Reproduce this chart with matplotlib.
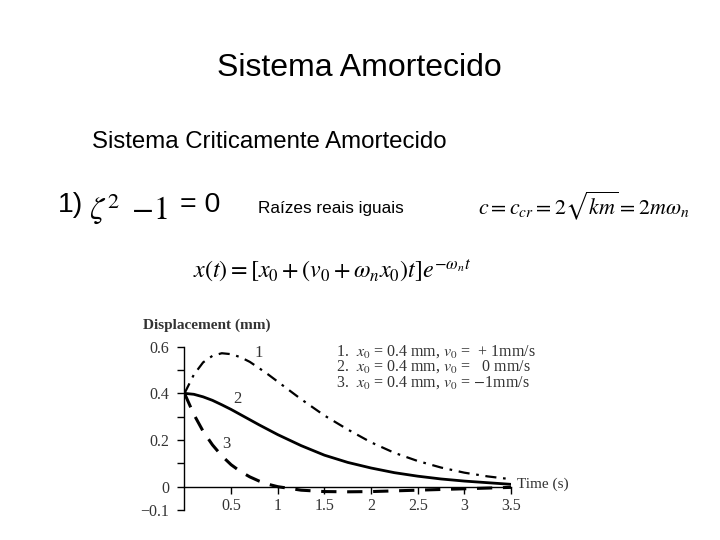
import matplotlib
matplotlib.use("Agg")
import matplotlib.pyplot as plt
from matplotlib.ticker import FixedLocator

plt.rcParams['mathtext.fontset'] = 'stix'

# ---- data ----
t = [0.0, 0.1, 0.2, 0.3, 0.4, 0.5, 0.6, 0.7, 0.8, 0.9, 1.0, 1.25, 1.5, 1.75,
     2.0, 2.25, 2.5, 2.75, 3.0, 3.25, 3.5]
curve1 = [0.40, 0.48, 0.533, 0.561, 0.572, 0.568, 0.555, 0.535, 0.508, 0.48,
          0.45, 0.375, 0.305, 0.245, 0.19, 0.145, 0.11, 0.082, 0.06, 0.044, 0.032]
curve2 = [0.40, 0.396, 0.385, 0.370, 0.351, 0.331, 0.309, 0.287, 0.265, 0.244,
          0.223, 0.176, 0.135, 0.104, 0.080, 0.060, 0.045, 0.033, 0.024, 0.017, 0.010]
curve3 = [0.40, 0.31, 0.237, 0.179, 0.132, 0.094, 0.065, 0.042, 0.024, 0.010,
          0.0, -0.015, -0.021, -0.022, -0.021, -0.018, -0.015, -0.012, -0.009, -0.006, -0.003]
curve_labels = ["1", "2", "3"]
label_pos = [(0.8, 0.575), (0.57, 0.375), (0.45, 0.185)]
legend_lines = [r"1.  $x_0$ = 0.4 mm, $v_0$ =  + 1mm/s",
                r"2.  $x_0$ = 0.4 mm, $v_0$ =   0 mm/s",
                r"3.  $x_0$ = 0.4 mm, $v_0$ = $-$1mm/s"]
yticks = [-0.1, 0.0, 0.2, 0.4, 0.6]
yticklabels = ["\u22120.1", "0", "0.2", "0.4", "0.6"]
yminor = [0.1, 0.3, 0.5]
xticks = [0.5, 1.0, 1.5, 2.0, 2.5, 3.0, 3.5]
xticklabels = ["0.5", "1", "1.5", "2", "2.5", "3", "3.5"]

W, H = 720, 540
fig = plt.figure(figsize=(7.2, 5.4), dpi=100)
fig.patch.set_facecolor("white")

def px(x, y):
    return x / W, 1 - y / H

sans = "Liberation Sans"
serif = "Liberation Serif"

fig.text(*px(359, 68), "Sistema Amortecido", family=sans, fontsize=23,
         ha="center", va="center")
fig.text(*px(269, 142), "Sistema Criticamente Amortecido", family=sans, fontsize=17.3,
         ha="center", va="center")
fig.text(*px(58, 205), "1)", family=sans, fontsize=20.5, ha="left", va="center")
fig.text(*px(89, 209), r"$\zeta^{2}\ \,{-1}$", fontsize=23, ha="left", va="center")
fig.text(*px(180, 205), "= 0", family=sans, fontsize=20.5, ha="left", va="center")
fig.text(*px(258, 209), "Raízes reais iguais", family=sans, fontsize=12.3,
         ha="left", va="center")
fig.text(*px(478, 206), r"$c = c_{cr} = 2\sqrt{km} = 2m\omega_n$", fontsize=15.8,
         ha="left", va="center")
fig.text(*px(193, 271), r"$x(t) = [x_0 + (v_0 + \omega_n x_0)t]e^{-\omega_n t}$",
         fontsize=17.3, ha="left", va="center")

# ---- chart ----
left, right = 184.5, 511
top, bottom = 346.7, 510
ax = fig.add_axes([left / W, 1 - bottom / H, (right - left) / W, (bottom - top) / H])
ax.set_xlim(0, 3.5)
ax.set_ylim(-0.1, 0.6)
ax.patch.set_alpha(0)

ax.plot(t, curve1, color="black", lw=1.6, linestyle=(0, (5, 3, 1.2, 3)),
        dash_capstyle="butt")
ax.plot(t, curve2, color="black", lw=2.0)
ax.plot(t, curve3, color="black", lw=2.2, linestyle=(0, (5, 3.5)),
        dash_capstyle="butt")

for lab, (lx, ly) in zip(curve_labels, label_pos):
    ax.text(lx, ly, lab, family=serif, fontsize=12, color="#333333",
            ha="center", va="center")

for s in ("top", "right"):
    ax.spines[s].set_visible(False)
ax.spines["bottom"].set_position(("data", 0))
ax.spines["left"].set_linewidth(1.0)
ax.spines["bottom"].set_linewidth(1.0)

ax.set_yticks(yticks)
ax.set_yticklabels(yticklabels, family=serif, fontsize=11.5, color="#333333")
ax.yaxis.set_minor_locator(FixedLocator(yminor))
ax.set_xticks(xticks)
ax.set_xticklabels(xticklabels, family=serif, fontsize=11.5, color="#333333")
ax.tick_params(axis="both", which="both", direction="out", length=5, width=1,
               color="black")
ax.tick_params(axis="y", pad=6)
ax.tick_params(axis="x", pad=3)

fig.text(*px(143, 325), "Displacement (mm)", family=serif, fontsize=11,
         weight="bold", color="#333333", ha="left", va="center")
fig.text(*px(517, 484), "Time (s)", family=serif, fontsize=11, color="#333333",
         ha="left", va="center")

fig.text(*px(336, 367), "\n".join(legend_lines), family=serif, fontsize=11.5,
         color="#333333", ha="left", va="center", linespacing=0.88)

fig.savefig("out.png", dpi=100, facecolor="white")
